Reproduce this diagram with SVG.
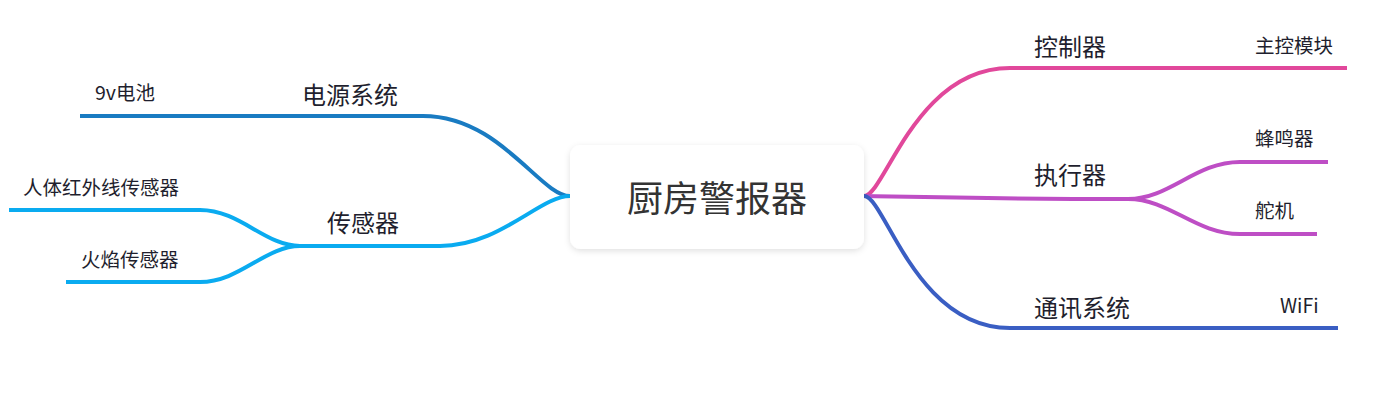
<svg xmlns="http://www.w3.org/2000/svg" width="1386" height="409" viewBox="0 0 1386 409">
<defs>
<style>
.t{font-family:"Noto Sans CJK SC","Liberation Sans",sans-serif;fill:#1f1f2e}
.m{font-size:24px}
.s{font-size:19.5px}
.c{font-size:36px;fill:#333333;text-anchor:middle}
.l{fill:none;stroke-width:4;stroke-linecap:butt}
.b1{stroke:#197BC2}
.b2{stroke:#0AABF0}
.b3{stroke:#E1489B}
.b4{stroke:#BE4EC5}
.b5{stroke:#3A5EC3}
</style>
<filter id="sh" x="-10%" y="-20%" width="120%" height="150%">
<feDropShadow dx="0" dy="2" stdDeviation="3" flood-color="#000" flood-opacity="0.12"/>
</filter>
</defs>
<rect width="1386" height="409" fill="#ffffff"/>
<g id="connectors">
<path class="l b1" d="M570,196 C540,196 500,116 423,116 L80,116"/>
<path class="l b2" d="M570,196 C540,196 500,246 440,246 L300,246"/>
<path class="l b2" d="M300,246 C265,246 240,210 200,210 L9,210"/>
<path class="l b2" d="M300,246 C265,246 240,282 200,282 L66,282"/>
<path class="l b3" d="M864,196 C885,196 915,68 1010,68 L1347,68"/>
<path class="l b4" d="M864,196 C920,197 1000,199 1128,199"/>
<path class="l b4" d="M1128,199 C1170,199 1195,162 1240,162 L1328,162"/>
<path class="l b4" d="M1128,199 C1170,199 1195,234 1240,234 L1317,234"/>
<path class="l b5" d="M864,196 C885,196 915,328 1010,328 L1338,328"/>
</g>
<g id="root">
<rect x="570" y="145" width="294" height="104" rx="11" fill="#ffffff" filter="url(#sh)"/>
<text class="t c" x="717" y="212">厨房警报器</text>
</g>
<g id="n-power"><text class="t m" x="302" y="104">电源系统</text></g>
<g id="n-battery"><text class="t s" x="95" y="100">9v电池</text></g>
<g id="n-sensor"><text class="t m" x="327" y="232">传感器</text></g>
<g id="n-pir"><text class="t s" x="23" y="195">人体红外线传感器</text></g>
<g id="n-flame"><text class="t s" x="81" y="267">火焰传感器</text></g>
<g id="n-ctrl"><text class="t m" x="1034" y="56">控制器</text></g>
<g id="n-mcu"><text class="t s" x="1255" y="53">主控模块</text></g>
<g id="n-act"><text class="t m" x="1034" y="184">执行器</text></g>
<g id="n-buzzer"><text class="t s" x="1255" y="146">蜂鸣器</text></g>
<g id="n-servo"><text class="t s" x="1255" y="218">舵机</text></g>
<g id="n-comm"><text class="t m" x="1034" y="317">通讯系统</text></g>
<g id="n-wifi"><text class="t s" x="1280" y="313">WiFi</text></g>
</svg>
